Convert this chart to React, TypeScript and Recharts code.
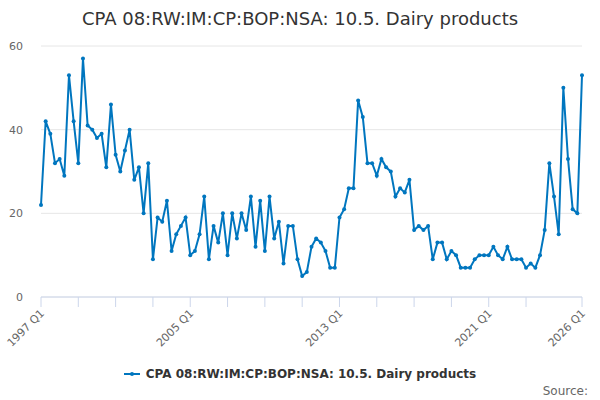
import { CartesianGrid, Line, LineChart, XAxis, YAxis } from "recharts";

const SERIES_NAME = "CPA 08:RW:IM:CP:BOP:NSA: 10.5. Dairy products";
const FIRST_YEAR = 1997;

// quarterly values, 1997 Q1 .. 2026 Q1
const values = [
  22, 42, 39, 32, 33, 29, 53, 42, 32, 57,
  41, 40, 38, 39, 31, 46, 34, 30, 35, 40,
  28, 31, 20, 32, 9, 19, 18, 23, 11, 15,
  17, 19, 10, 11, 15, 24, 9, 17, 13, 20,
  10, 20, 14, 20, 16, 24, 12, 23, 11, 24,
  14, 18, 8, 17, 17, 9, 5, 6, 12, 14,
  13, 11, 7, 7, 19, 21, 26, 26, 47, 43,
  32, 32, 29, 33, 31, 30, 24, 26, 25, 28,
  16, 17, 16, 17, 9, 13, 13, 9, 11, 10,
  7, 7, 7, 9, 10, 10, 10, 12, 10, 9,
  12, 9, 9, 9, 7, 8, 7, 10, 16, 32,
  24, 15, 50, 33, 21, 20, 53,
];

const xTicks = [0, 8, 16, 24, 32, 40, 48, 56, 64, 72, 80, 88, 96, 104, 116];
const xLabelTicks = [0, 32, 64, 96, 116];
const yTicks = [0, 20, 40, 60];

const LINE_COLOR = "#0076bf";
const FONT = "'DejaVu Sans', sans-serif";

const quarterLabel = (i: number) =>
  `${FIRST_YEAR + Math.floor(i / 4)} Q${(i % 4) + 1}`;

const data = values.map((v, i) => ({ i, v }));

function RotatedTick(props: any) {
  const { x, y, payload } = props;
  if (!xLabelTicks.includes(payload.value)) return null;
  const tx = x + 4;
  const ty = y + 7;
  return (
    <text
      x={tx}
      y={ty}
      transform={`rotate(-45, ${tx}, ${ty})`}
      textAnchor="end"
      fontSize={11}
      fontFamily={FONT}
      fill="#666"
    >
      {quarterLabel(payload.value)}
    </text>
  );
}

export default function App() {
  return (
    <div
      style={{
        position: "relative",
        width: 600,
        height: 400,
        background: "#fff",
        fontFamily: FONT,
      }}
    >
      <style>{`body{margin:0}`}</style>
      <div
        style={{
          position: "absolute",
          top: 8,
          left: 0,
          width: 600,
          textAlign: "center",
          fontSize: 18,
          lineHeight: "22px",
          color: "#333",
        }}
      >
        {SERIES_NAME}
      </div>
      <LineChart
        width={600}
        height={400}
        data={data}
        margin={{ top: 46, right: 18, bottom: 43, left: 10 }}
      >
        <CartesianGrid vertical={false} stroke="#e6e6e6" />
        <XAxis
          dataKey="i"
          type="number"
          domain={[0, 116]}
          ticks={xTicks}
          interval={0}
          height={60}
          tickSize={10}
          tickMargin={0}
          axisLine={{ stroke: "#ccd6eb" }}
          tickLine={{ stroke: "#ccd6eb" }}
          tick={<RotatedTick />}
        />
        <YAxis
          domain={[0, 60]}
          ticks={yTicks}
          width={31}
          axisLine={false}
          tickLine={false}
          tickSize={0}
          tickMargin={18}
          tick={{ fontSize: 11, fill: "#666", fontFamily: FONT }}
        />
        <Line
          dataKey="v"
          type="linear"
          stroke={LINE_COLOR}
          strokeWidth={2}
          dot={{ r: 2, fill: LINE_COLOR, stroke: LINE_COLOR, strokeWidth: 0 }}
          isAnimationActive={false}
        />
      </LineChart>
      <div
        style={{
          position: "absolute",
          top: 366,
          left: 0,
          width: 600,
          display: "flex",
          justifyContent: "center",
          alignItems: "center",
          fontSize: 12,
          lineHeight: "16px",
          fontWeight: "bold",
          color: "#333",
        }}
      >
        <svg width={16} height={10} style={{ marginRight: 6 }}>
          <line x1={0} y1={5} x2={16} y2={5} stroke={LINE_COLOR} strokeWidth={2} />
          <circle cx={8} cy={5} r={2} fill={LINE_COLOR} />
        </svg>
        <span>{SERIES_NAME}</span>
      </div>
      <div
        style={{
          position: "absolute",
          top: 383,
          right: 12,
          fontSize: 12,
          lineHeight: "16px",
          color: "#666",
        }}
      >
        Source:
      </div>
    </div>
  );
}
